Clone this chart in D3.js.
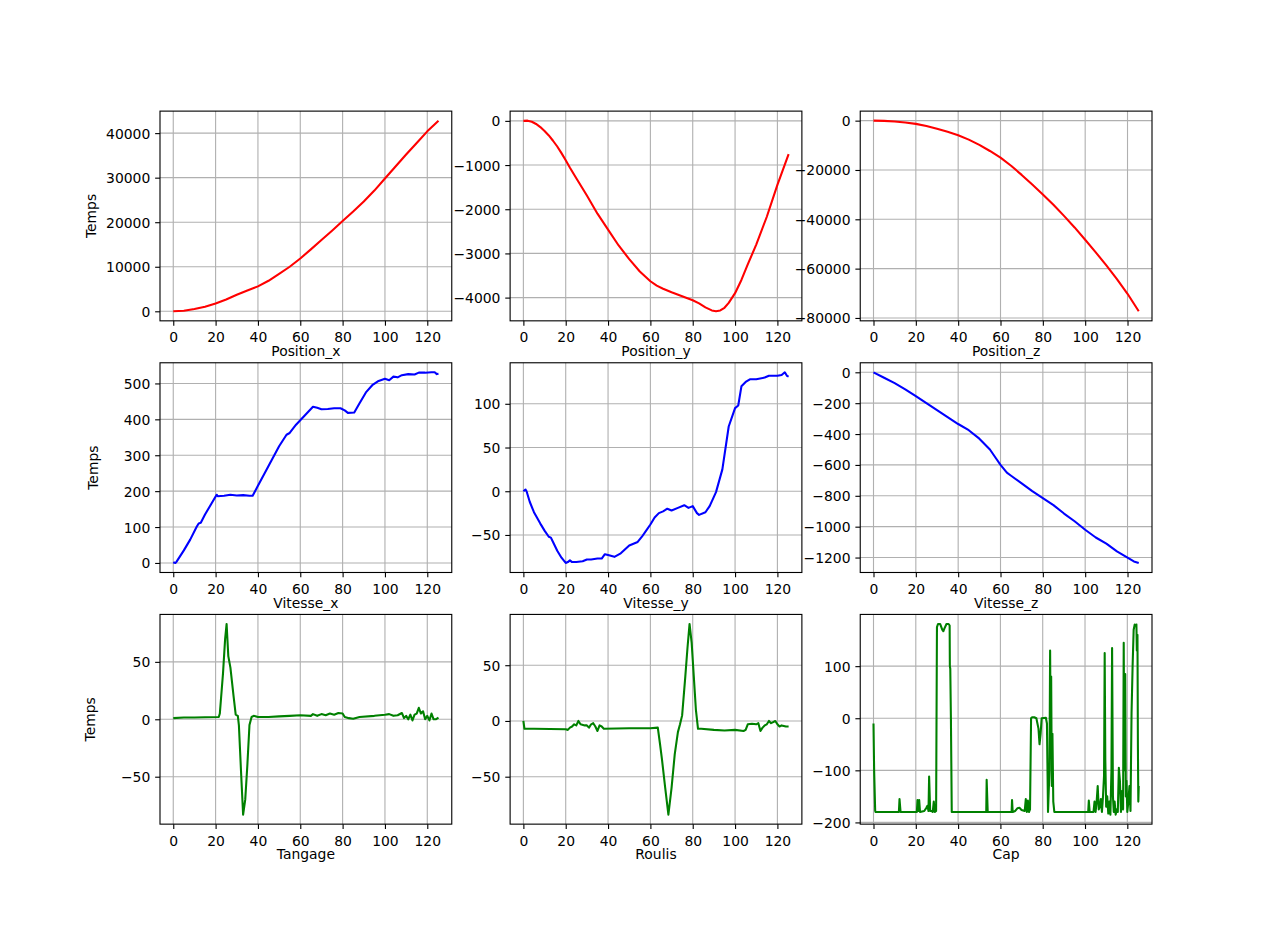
<!DOCTYPE html>
<html><head><meta charset="utf-8">
<script src="https://cdn.jsdelivr.net/npm/d3@7"></script>
<style>
body{margin:0;background:#fff}
text{font-family:"DejaVu Sans",sans-serif;font-size:13.9px;fill:#000}
</style>
</head><body>
<svg id="c" width="1280" height="926"></svg>
<script>
// ---------------- DATA ----------------
const timeTicks = [0, 20, 40, 60, 80, 100, 120];

const positionX = [[0,0],[5,120],[10,500],[15,1000],[20,1750],[25,2650],[30,3700],[35,4650],[40,5600],[45,6850],[50,8400],[55,10000],[60,11850],[65,13900],[70,16000],[75,18100],[80,20250],[85,22400],[90,24650],[95,27100],[100,29800],[105,32500],[110,35200],[115,37800],[120,40400],[125.3,42800]];
const positionXTicks = [0, 10000, 20000, 30000, 40000];

const positionY = [[0,0],[2,5],[4,-20],[6,-70],[8,-140],[10,-230],[12,-330],[14,-450],[16,-580],[18,-730],[20,-890],[22,-1060],[25,-1300],[30,-1690],[35,-2100],[40,-2460],[45,-2820],[50,-3130],[55,-3410],[60,-3630],[63,-3730],[66,-3800],[70,-3880],[75,-3970],[80,-4060],[83,-4130],[86,-4220],[89,-4290],[91,-4310],[93,-4290],[95,-4230],[97,-4120],[100,-3900],[103,-3600],[106,-3250],[110,-2800],[115,-2170],[120,-1450],[125.3,-755]];
const positionYTicks = [0, -1000, -2000, -3000, -4000];

const positionZ = [[0,0],[5,-80],[10,-350],[15,-750],[20,-1300],[25,-2200],[30,-3300],[35,-4550],[40,-5900],[45,-7700],[50,-9800],[55,-12300],[60,-15000],[65,-18300],[70,-22000],[75,-25900],[80,-29900],[85,-34100],[90,-38600],[95,-43300],[100,-48300],[105,-53400],[110,-58700],[115,-64300],[120,-70200],[125.3,-77300]];
const positionZTicks = [0, -20000, -40000, -60000, -80000];

const vitesseX = [[0,0],[0.5,1],[1,0],[1.5,3],[5,35],[8,65],[11,100],[12,110],[13,112],[15,135],[18,165],[20.5,190],[21,186],[24,187],[27,190],[30,188],[33,189],[36,187],[37.5,187],[40,215],[45,270],[50,325],[53.5,357],[55,362],[58,385],[62,410],[66,435],[68,432],[70,428],[73,429],[76,431],[79,431],[81,425],[82.5,418],[85.5,419],[88,445],[91,475],[94,495],[97,507],[100,513],[102,509],[104,519],[106,517],[108,523],[111,526],[114,525],[116,530],[119,530],[122,531],[123.5,531],[124.5,526],[125.3,527]];
const vitesseXTicks = [0, 100, 200, 300, 400, 500];

const vitesseY = [[0,0],[1,2],[1.5,0],[3,-12],[5,-24],[8,-37],[10,-45],[12,-52],[13,-53],[14,-58],[16,-68],[18,-76],[20,-82],[21,-81],[22,-79],[23,-81],[25,-81],[28,-80],[30,-78],[32,-78],[35,-77],[37,-77],[38.5,-72],[40,-73],[43,-75],[46,-71],[50,-62],[54,-58],[56,-52],[58,-45],[60,-38],[62,-30],[64,-25],[66,-23],[68,-20],[70,-22],[73,-19],[76,-16],[78,-19],[80,-17],[82,-25],[83,-27],[86,-24],[88,-17],[91,-1],[94,25],[97,74],[100,95],[101.5,98],[103,120],[105,125],[107,128],[110,128],[114,130],[116,132],[120,132],[122,133],[123.5,136],[124.5,132],[125.3,131]];
const vitesseYTicks = [-50, 0, 50, 100];

const vitesseZ = [[0,0],[5,-35],[10,-70],[15,-110],[20,-155],[25,-200],[30,-245],[35,-290],[40,-335],[45,-375],[50,-430],[55,-500],[58,-560],[60,-600],[63,-650],[65,-670],[70,-720],[75,-770],[80,-815],[85,-860],[90,-915],[95,-965],[100,-1020],[105,-1070],[110,-1110],[115,-1160],[120,-1200],[123,-1225],[125.3,-1235]];
const vitesseZTicks = [0, -200, -400, -600, -800, -1000, -1200];

const tangage = [[0,1],[5,1.5],[10,1.5],[15,1.7],[21.5,2],[22,5],[23.5,40],[24.5,70],[25.2,83],[26,55],[27,45],[28.5,20],[29.5,4],[30.5,3],[31,-5],[32,-45],[33,-83],[34,-70],[35,-40],[36,-5],[37,2],[38,3],[40,2],[45,2],[50,2.5],[55,3],[60,3.5],[65,3],[66,4.5],[68,3],[70,4.5],[72,3.5],[74,5],[76,4],[78,5.5],[80,5],[81,2],[83,1],[85,0.5],[88,2],[95,3],[100,4],[102,4.5],[104,3],[106,3.5],[108,5.5],[109,1],[110,3],[111,0],[112,4],[113,-1],[114,4],[115,5],[116,10],[117,5],[118,7],[119,0],[120,3],[121,-1],[122,5],[123,0],[124,0],[125.3,1.5]];
const tangageTicks = [-50, 0, 50];

const roulis = [[0,0],[0.5,-7],[5,-7],[20,-7.5],[21,-8],[22,-6],[23,-5],[24,-3],[25,-4],[26,0],[27,-3],[29,-4],[30,-4],[31,-6],[32,-3],[33,-2],[34,-5],[35,-9],[36,-4],[37,-5],[38,-7],[50,-6.5],[60,-6.5],[63.5,-6],[64.5,-20],[65.5,-35],[67,-60],[68.5,-84],[70,-60],[71.5,-30],[73,-10],[74,-3],[75,5],[76.5,40],[77.5,65],[78.5,87],[79.5,70],[80.5,40],[81.5,10],[82.5,-7],[84,-7],[90,-8],[95,-8.5],[100,-8],[104,-9],[105,-8],[106,-3],[108,-2.5],[110,-3],[111,-2],[112,-9],[113,-6],[114,-4],[115,-3],[116,0],[117,-2],[118,-1],[119,0],[120,-3],[121,-5],[122,-4],[124,-5],[125.3,-5]];
const roulisTicks = [-50, 0, 50];

const cap = [[0,-10],[0.3,-100],[0.8,-178],[1,-180],[12,-180],[12.3,-155],[12.8,-180],[20.5,-180],[20.8,-157],[21.2,-178],[21.6,-157],[22,-180],[24,-178],[25,-172],[25.5,-168],[26,-178],[26.3,-112],[26.8,-178],[27.5,-178],[28,-180],[28.5,-160],[29,-180],[29.6,-178],[30,175],[30.5,181],[31.5,181],[32.5,170],[33,167],[33.5,172],[34.5,181],[35.5,181],[36,178],[36.1,100],[36.3,95],[36.6,0],[37,-180],[53.3,-180],[53.5,-118],[54,-180],[65.3,-180],[65.5,-157],[65.8,-180],[67,-178],[68,-173],[69,-172],[70,-176],[71.5,-178],[72,-155],[72.5,-180],[73,-158],[73.5,-180],[74,-175],[74.5,0],[75,2],[76,2],[77,0],[78,-20],[78.5,-50],[79,-30],[79.5,0],[81.5,1],[82,-10],[82.5,-180],[83.2,-100],[83.5,130],[83.8,-50],[84,80],[84.3,-130],[84.6,-30],[85,-160],[85.5,-180],[101.5,-180],[101.8,-158],[102.2,-180],[104,-180],[104.5,-160],[105,-180],[105.5,-160],[106,-130],[106.5,-175],[107,-170],[107.5,-155],[108,-180],[108.5,-150],[109,-110],[109.3,125],[109.6,-80],[110,-170],[110.5,-150],[111,-183],[111.5,-160],[112,-185],[112.5,-100],[112.8,135],[113.2,-150],[113.6,-180],[114,-160],[114.5,-185],[115,-175],[115.5,-180],[116,-95],[116.5,-120],[117,-180],[117.5,-140],[118,-175],[118.3,145],[118.6,-100],[119,85],[119.3,-150],[119.6,-120],[120,-180],[120.5,-160],[121,-130],[121.5,-178],[122,10],[122.5,100],[123,170],[123.5,180],[124,178],[124.3,180],[124.5,130],[124.8,160],[125,-50],[125.2,-160],[125.4,-130]];
const capTicks = [-200, -100, 0, 100];

const panelLabels = ["Position_x","Position_y","Position_z","Vitesse_x","Vitesse_y","Vitesse_z","Tangage","Roulis","Cap"];
const panelSeries = [positionX, positionY, positionZ, vitesseX, vitesseY, vitesseZ, tangage, roulis, cap];
const panelTicks = [positionXTicks, positionYTicks, positionZTicks, vitesseXTicks, vitesseYTicks, vitesseZTicks, tangageTicks, roulisTicks, capTicks];
const rowColors = ["#ff0000", "#0000ff", "#008000"];
const yAxisTitle = "Temps";

// ---------------- LAYOUT ----------------
const W = 1280, H = 926;
const figL = 0.125*W, figR = 0.9*W, figT = 0.12*H, figB = 0.89*H;
const aw = (figR - figL)/3.4, ah = (figB - figT)/3.4;
const gapW = aw*0.2, gapH = ah*0.2;
const tickLen = 4.86, tickPad = 4.86;
const thin = 0.8*100/72, lw = 1.5*100/72;
const ylabelX = [95.5, 97.8, 94.8];

const svg = d3.select("#c");
svg.append("rect").attr("width",W).attr("height",H).attr("fill","#fff");
const fmt = v => d3.format("d")(v).replace("-", "\u2212");

panelSeries.forEach((data, i) => {
  const row = Math.floor(i/3), col = i % 3;
  const x0 = figL + col*(aw+gapW), y0 = figT + row*(ah+gapH);
  const g = svg.append("g").attr("transform", `translate(${x0},${y0})`);

  const tExt = d3.extent(data, d => d[0]);
  const vExt = d3.extent(data, d => d[1]);
  const tm = (tExt[1]-tExt[0])*0.05, vm = (vExt[1]-vExt[0])*0.05;
  const xs = d3.scaleLinear().domain([tExt[0]-tm, tExt[1]+tm]).range([0, aw]);
  const ys = d3.scaleLinear().domain([vExt[0]-vm, vExt[1]+vm]).range([ah, 0]);

  // grid
  const grid = g.append("g").attr("stroke","#b0b0b0").attr("stroke-width",thin);
  timeTicks.forEach(t => grid.append("line").attr("x1",xs(t)).attr("x2",xs(t)).attr("y1",0).attr("y2",ah));
  panelTicks[i].forEach(v => grid.append("line").attr("x1",0).attr("x2",aw).attr("y1",ys(v)).attr("y2",ys(v)));

  // clip & line
  const cid = "clip"+i;
  g.append("clipPath").attr("id",cid).append("rect").attr("width",aw).attr("height",ah);
  g.append("path").datum(data)
    .attr("clip-path",`url(#${cid})`)
    .attr("fill","none").attr("stroke",rowColors[row]).attr("stroke-width",lw)
    .attr("stroke-linejoin","round")
    .attr("d", d3.line().x(d => xs(d[0])).y(d => ys(d[1])));

  // axes
  const xa = g.append("g").attr("transform",`translate(0,${ah})`)
    .call(d3.axisBottom(xs).tickValues(timeTicks).tickFormat(fmt).tickSize(tickLen).tickPadding(tickPad));
  const ya = g.append("g")
    .call(d3.axisLeft(ys).tickValues(panelTicks[i]).tickFormat(fmt).tickSize(tickLen).tickPadding(tickPad));
  [xa, ya].forEach(a => {
    a.select(".domain").remove();
    a.selectAll(".tick line").attr("stroke","#000").attr("stroke-width",thin);
    a.selectAll("text").attr("font-family","DejaVu Sans").attr("font-size","13.9px").attr("fill","#000");
  });
  xa.selectAll("text").attr("y", 21.5).attr("dy", null);
  ya.selectAll("text").attr("dy", "0.36em");

  // frame
  g.append("rect").attr("width",aw).attr("height",ah).attr("fill","none")
    .attr("stroke","#000").attr("stroke-width",thin);

  // x label
  g.append("text").attr("x", aw/2).attr("y", ah + 35.2).attr("text-anchor","middle").text(panelLabels[i]);

  // y label
  if (col === 0) {
    svg.append("text")
      .attr("transform", `translate(${ylabelX[row]},${y0 + ah/2}) rotate(-90)`)
      .attr("text-anchor","middle").text(yAxisTitle);
  }
});
</script>
</body></html>
